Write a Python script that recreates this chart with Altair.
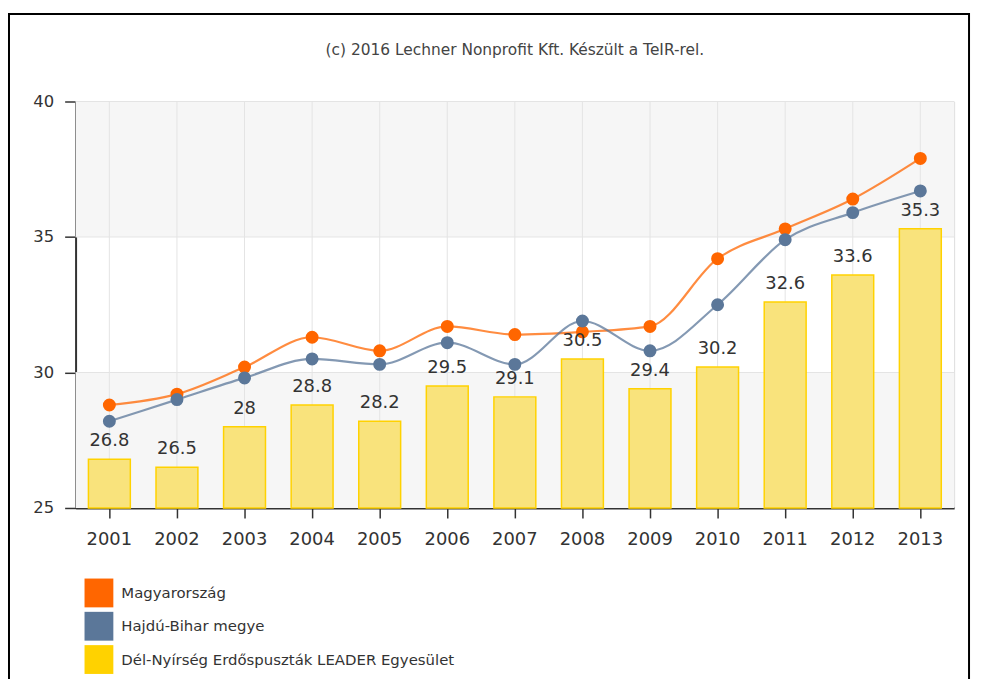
import altair as alt
import pandas as pd

# ---- data ----
years = [str(y) for y in range(2001, 2014)]
magyarorszag = [28.8, 29.2, 30.2, 31.3, 30.8, 31.7, 31.4, 31.5, 31.7, 34.2, 35.3, 36.4, 37.9]
hajdu_bihar = [28.2, 29.0, 29.8, 30.5, 30.3, 31.1, 30.3, 31.9, 30.8, 32.5, 34.9, 35.9, 36.7]
leader = [26.8, 26.5, 28.0, 28.8, 28.2, 29.5, 29.1, 30.5, 29.4, 30.2, 32.6, 33.6, 35.3]
series_names = ["Magyarország", "Hajdú-Bihar megye", "Dél-Nyírség Erdőspuszták LEADER Egyesület"]
series_colors = ["#FF6600", "#5B7799", "#FFD200"]
band_lo = [25, 35]
band_hi = [30, 40]
grid_y = [30, 35, 40]
y_ticks = [25, 30, 35, 40]
title_text = "(c) 2016 Lechner Nonprofit Kft. Készült a TeIR-rel."

FONT = "DejaVu Sans"
W, H = 884, 409

lines_df = pd.DataFrame(
    [{"year": y, "series": series_names[0], "col": series_colors[0], "value": v} for y, v in zip(years, magyarorszag)]
    + [{"year": y, "series": series_names[1], "col": series_colors[1], "value": v} for y, v in zip(years, hajdu_bihar)]
)
bars_df = pd.DataFrame({"year": years, "value": leader, "base": [25] * len(years)})
bands_df = pd.DataFrame({"lo": band_lo, "hi": band_hi})
gridy_df = pd.DataFrame({"v": grid_y})
gridx_df = pd.DataFrame({"year": years})
legend_df = pd.DataFrame({"series": series_names})
title_df = pd.DataFrame({"t": [title_text]})

xscale = alt.Scale(domain=years, paddingInner=0.38, paddingOuter=0.19)
yscale = alt.Scale(domain=[25, 40], nice=False, zero=False)
cscale = alt.Scale(domain=series_names, range=series_colors)

X = alt.X("year:N", scale=xscale, axis=alt.Axis(
    title=None, labelAngle=0, grid=False, tickSize=10, tickColor="#333", tickWidth=1.5,
    domainColor="#333", domainWidth=2, labelFontSize=18, labelColor="#333",
    labelPadding=13, labelFont=FONT))

bands = alt.Chart(bands_df).mark_rect(color="#F6F6F6").encode(
    y=alt.Y("lo:Q", scale=yscale, axis=alt.Axis(
        title=None, values=y_ticks, grid=False, tickSize=11, tickColor="#333", tickWidth=1.5,
        domainColor="#333", domainWidth=2, labelFontSize=16.5, labelColor="#333",
        labelPadding=11, labelFont=FONT)),
    y2="hi:Q",
)

rules_y = alt.Chart(gridy_df).mark_rule(color="#E4E4E4", strokeWidth=1).encode(
    y=alt.Y("v:Q", scale=yscale)
)
rules_x = alt.Chart(gridx_df).mark_rule(color="#E4E4E4", strokeWidth=1).encode(x=X)

bars = alt.Chart(bars_df).mark_bar(fill="#F9E37C", stroke="#FFD200", strokeWidth=1.5).encode(
    x=X, y=alt.Y("value:Q", scale=yscale), y2="base:Q"
)

lines = alt.Chart(lines_df).mark_line(interpolate="monotone", strokeWidth=2.2, opacity=0.75).encode(
    x=X, y=alt.Y("value:Q", scale=yscale),
    color=alt.Color("col:N", scale=None),
    detail="series:N",
)
points = alt.Chart(lines_df).mark_circle(size=170, opacity=1).encode(
    x=X, y=alt.Y("value:Q", scale=yscale),
    color=alt.Color("col:N", scale=None),
)

labels = alt.Chart(bars_df).mark_text(baseline="bottom", dy=-9, fontSize=18, color="#333", font=FONT).encode(
    x=X, y=alt.Y("value:Q", scale=yscale), text="value:Q"
)

title = alt.Chart(title_df).mark_text(fontSize=15.5, color="#444", font=FONT, baseline="middle").encode(
    x=alt.value(W / 2), y=alt.value(-52), text="t:N"
)

frame = alt.Chart(title_df).mark_rect(fillOpacity=0, stroke="#000", strokeWidth=2).encode(
    x=alt.value(-67), x2=alt.value(899), y=alt.value(-88), y2=alt.value(700)
)

legend_layer = alt.Chart(legend_df).mark_square(opacity=0).encode(
    fill=alt.Fill("series:N", scale=cscale, legend=alt.Legend(
        orient="none", legendX=9, legendY=480, direction="vertical", title=None,
        symbolType="square", symbolSize=841, symbolOpacity=1, symbolStrokeWidth=0,
        labelFontSize=15, labelColor="#333", labelFont=FONT, rowPadding=4.5,
        labelOffset=8, padding=0, labelLimit=600,
    ))
)

chart = alt.layer(bands, rules_y, rules_x, bars, lines, points, labels, title, frame, legend_layer).properties(
    width=W, height=H,
    autosize=alt.AutoSizeParams(type="none"),
    padding={"left": 68, "top": 92, "right": 20, "bottom": 170},
    background="white",
).configure_view(stroke=None).configure(font=FONT)

chart.save("out.html", embed_options={"renderer": "svg", "actions": False})
